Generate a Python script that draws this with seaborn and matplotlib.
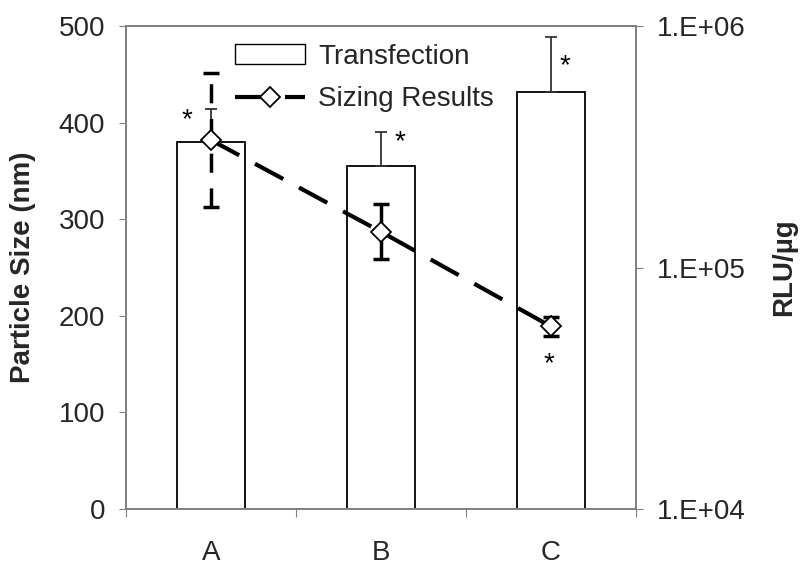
import numpy as np
import pandas as pd
import matplotlib
matplotlib.use('Agg')
import matplotlib.pyplot as plt
import seaborn as sns
from matplotlib.patches import Patch
from matplotlib.lines import Line2D
from matplotlib.ticker import FixedLocator, FuncFormatter, NullLocator

sns.set_style('white')
plt.rcParams['font.family'] = ['Liberation Sans', 'DejaVu Sans']

# data
groups = ['A', 'B', 'C']
rlu = [3.31e5, 2.63e5, 5.33e5]          # transfection, RLU/ug (right, log)
rlu_err = [1.22e5, 1.01e5, 3.67e5]
size_nm = [382, 287, 189]               # sizing results, nm (left)
size_err = [69, 28.5, 10]

df = pd.DataFrame({'group': groups, 'rlu': rlu, 'size': size_nm})
pos = np.arange(len(groups))
fs = 20
grey = '#808080'
lw = 3.0
dash = (7.7, 4.3)

fig = plt.figure(figsize=(8, 5.72), dpi=100)
ax = fig.add_axes([0.1575, 0.110, 0.6375, 0.8445])
ax2 = ax.twinx()

# bars on the right (log) axis
ax2.set_yscale('log')
sns.barplot(data=df, x='group', y='rlu', ax=ax2, color='white', edgecolor='black',
            linewidth=1.3, width=0.4, errorbar=None)
for p in ax2.patches:
    p.set_facecolor('white')
ax2.errorbar(pos, rlu, yerr=[np.zeros(3), rlu_err], fmt='none', ecolor='#333333',
             elinewidth=1.3, capsize=4, capthick=1.3)
ax2.set_ylim(1e4, 1e6)
ax2.yaxis.set_major_locator(FixedLocator([1e4, 1e5, 1e6]))
ax2.yaxis.set_minor_locator(NullLocator())
ax2.yaxis.set_major_formatter(FuncFormatter(lambda v, p: '1.E+%02d' % round(np.log10(v))))
ax2.set_ylabel('RLU/µg', fontsize=fs, fontweight='bold', labelpad=18)
ax2.set_xlabel('')

# dashed sizing line on the left axis, drawn above the bars
ax.set_zorder(ax2.get_zorder() + 1)
ax.patch.set_visible(False)
sns.lineplot(x=pos, y=size_nm, ax=ax, color='black', linewidth=lw, marker='D',
             markersize=10, markerfacecolor='white', markeredgecolor='black',
             markeredgewidth=1.3, dashes=False, zorder=3)
ax.lines[-1].set_dashes(dash)
eb = ax.errorbar(pos, size_nm, yerr=size_err, fmt='none', ecolor='black',
                 elinewidth=2.5, capsize=6, capthick=2.5, zorder=2)
for lc in eb[2]:
    lc.set_linestyle((0, (5.5, 4.5)))
ax.set_ylim(0, 500)
ax.set_yticks([0, 100, 200, 300, 400, 500])
ax.set_xlim(-0.5, 2.5)
ax.set_ylabel('Particle Size (nm)', fontsize=fs, fontweight='bold', labelpad=16)

# category ticks at the boundaries, labels at the centres
ax.set_xticks([-0.5, 0.5, 1.5, 2.5])
ax.set_xticklabels(['', '', '', ''])
ax.set_xticks(pos, minor=True)
ax.set_xticklabels(groups, minor=True)
ax.tick_params(axis='x', which='minor', length=0, labelsize=fs, pad=22)
ax.tick_params(axis='x', which='major', length=6, color=grey, direction='out')
ax.tick_params(axis='y', length=5, color=grey, direction='out', labelsize=fs, pad=10)
ax2.tick_params(axis='y', length=5, color=grey, direction='out', labelsize=fs, pad=10)
ax.tick_params(axis='both', which='both', bottom=True, left=True)
ax2.tick_params(axis='y', right=True)

for a in (ax, ax2):
    for s in a.spines.values():
        s.set_color(grey)
        s.set_linewidth(1.3)

# significance marks
for x, y in [(-0.14, 403), (1.11, 380), (2.08, 458), (1.99, 150)]:
    ax.text(x, y, '*', fontsize=fs, ha='center', va='center', color='black')

handles = [Patch(facecolor='white', edgecolor='black', linewidth=1.0),
           Line2D([0], [0], color='black', linewidth=lw, dashes=dash, marker='D',
                  markersize=10, markerfacecolor='white', markeredgecolor='black',
                  markeredgewidth=1.3)]
ax.legend(handles, ['Transfection', 'Sizing Results'], loc='upper left',
          bbox_to_anchor=(0.165, 1.015), frameon=False, fontsize=fs,
          handlelength=2.5, handletextpad=0.5, labelspacing=0.6)

fig.savefig('out.png', dpi=100)
